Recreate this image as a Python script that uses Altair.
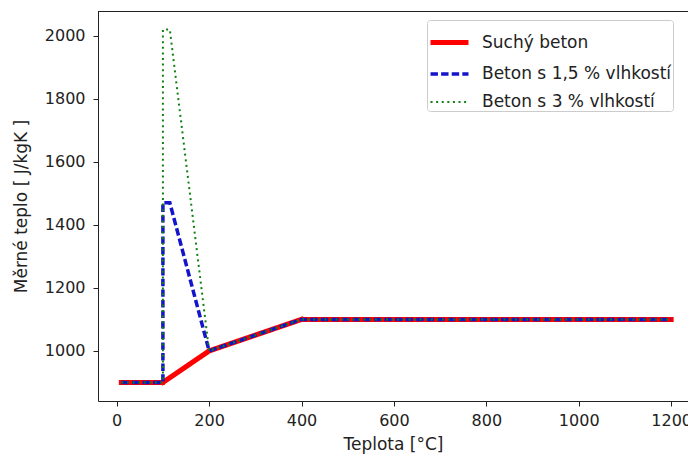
import altair as alt
import pandas as pd

series_names = ["Suchý beton", "Beton s 1,5 % vlhkostí", "Beton s 3 % vlhkostí"]

t_dry = [10, 100, 200, 400, 1200]
c_dry = [900, 900, 1000, 1100, 1100]

t_15 = [10, 100, 100, 115, 200, 400, 1200]
c_15 = [900, 900, 1470, 1470, 1000, 1100, 1100]

t_30 = [10, 100, 100, 115, 200, 400, 1200]
c_30 = [900, 900, 2020, 2020, 1000, 1100, 1100]

x_ticks = [0, 200, 400, 600, 800, 1000, 1200]
y_ticks = [1000, 1200, 1400, 1600, 1800, 2000]

rows = []
for name, ts, cs in zip(series_names, [t_dry, t_15, t_30], [c_dry, c_15, c_30]):
    for i, (t, c) in enumerate(zip(ts, cs)):
        rows.append({"series": name, "t": t, "c": c, "i": i})
df = pd.DataFrame(rows)

FONT = "DejaVu Sans"
TICK_FS = 16
TITLE_FS = 17
LEG_FS = 17

colors = ["#ff0000", "#1414c8", "#108010"]
dashes = [[1, 0], [7.4, 3.2], [2, 3.6]]
widths = [5, 2, 2.2]
caps = ["square", "butt", "butt"]

x_scale = alt.Scale(domain=[-40.5, 1236.5], nice=False, zero=False)
y_scale = alt.Scale(domain=[841, 2079], nice=False, zero=False)

x_axis = alt.Axis(values=x_ticks, grid=False, title="Teplota [°C]", format="d",
                  tickSize=5, labelPadding=6, titlePadding=8)
y_axis = alt.Axis(values=y_ticks, grid=False, title="Měrné teplo [ J/kgK ]", format="d",
                  tickSize=5, labelPadding=8, titlePadding=14)

legend = alt.Legend(title=None, orient="none", legendX=329, legendY=9,
                    symbolType="stroke", symbolSize=1440, labelFontSize=LEG_FS,
                    labelFont=FONT, labelColor="#222222", padding=1, labelLimit=400,
                    fillColor="white", strokeColor="#cccccc", cornerRadius=3,
                    rowPadding=-10, labelOffset=11, symbolOffset=0)

def layer(k):
    name = series_names[k]
    return alt.Chart(df).transform_filter(alt.datum.series == name).mark_line(
        strokeCap=caps[k], strokeJoin="miter", clip=True
    ).encode(
        x=alt.X("t:Q", scale=x_scale, axis=x_axis),
        y=alt.Y("c:Q", scale=y_scale, axis=y_axis),
        color=alt.Color("series:N", scale=alt.Scale(domain=series_names, range=colors), legend=legend),
        strokeDash=alt.StrokeDash("series:N", scale=alt.Scale(domain=series_names, range=dashes), legend=legend),
        strokeWidth=alt.StrokeWidth("series:N", scale=alt.Scale(domain=series_names, range=widths), legend=legend),
        order="i:Q",
    )

frame = alt.Chart(df).mark_rule(color="#222222", strokeWidth=1).encode(
    x=alt.value(0), x2=alt.value(590), y=alt.value(0.5)
)

chart = alt.layer(layer(0), layer(1), layer(2), frame).properties(
    width=590, height=390,
    autosize=alt.AutoSizeParams(type="none"),
    padding={"left": 98, "top": 11, "right": 0, "bottom": 56},
    background="white",
).configure_view(stroke=None).configure_axis(
    labelFont=FONT, titleFont=FONT, labelFontSize=TICK_FS, titleFontSize=TITLE_FS,
    labelColor="#222222", titleColor="#222222", titleFontWeight="normal",
    domainColor="#222222", tickColor="#222222", domainWidth=1, tickWidth=1,
)

chart.save("out.html", embed_options={"renderer": "svg", "actions": False})
